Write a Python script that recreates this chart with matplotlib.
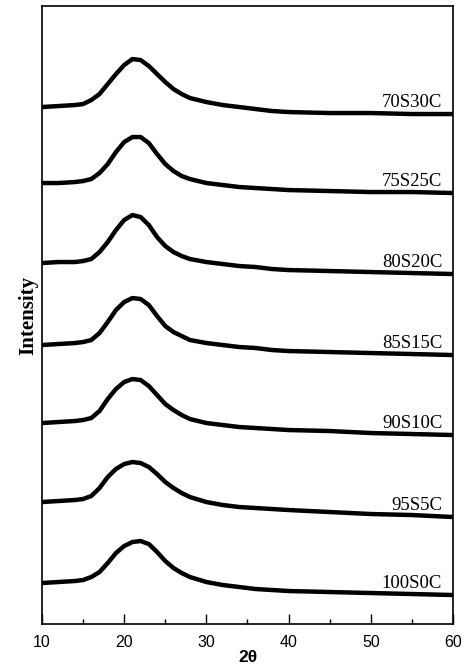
import matplotlib
matplotlib.use("Agg")
import matplotlib.pyplot as plt
import numpy as np

tth = [10, 12, 14, 15, 16, 17, 18, 19, 20, 21, 22, 23, 24, 25, 26, 27, 28,
       30, 32, 34, 36, 38, 40, 45, 50, 55, 60]

# intensity above each curve's own left baseline (arb. units)
i_70s30c = [0, 1, 2, 3, 7, 13, 23, 33, 42, 48, 47, 41, 33, 25, 18, 13, 9, 5, 2, 0, -2, -4, -5, -6, -6, -7, -7]
i_75s25c = [0, 0, 1, 2, 4, 10, 19, 31, 41, 46, 46, 40, 29, 19, 12, 7, 4, 0, -2, -4, -5, -6, -7, -8, -9, -9, -10]
i_80s20c = [0, 1, 1, 2, 4, 11, 21, 33, 43, 48, 46, 38, 26, 17, 11, 7, 4, 1, -1, -3, -4, -6, -7, -8, -9, -10, -11]
i_85s15c = [0, 1, 2, 3, 5, 12, 23, 35, 43, 47, 46, 40, 29, 19, 13, 9, 5, 2, 0, -2, -3, -5, -6, -7, -8, -9, -10]
i_90s10c = [0, 1, 2, 3, 5, 12, 24, 34, 41, 44, 43, 37, 28, 19, 13, 8, 4, 0, -2, -4, -5, -6, -7, -8, -10, -11, -12]
i_95s5c = [0, 1, 2, 3, 6, 14, 25, 33, 38, 40, 39, 35, 28, 20, 14, 9, 5, 0, -3, -5, -6, -7, -8, -10, -12, -13, -15]
i_100s0c = [0, 1, 2, 3, 6, 11, 20, 30, 37, 41, 42, 39, 31, 22, 15, 10, 6, 1, -2, -4, -6, -7, -8, -9, -10, -11, -12]

names = ["70S30C", "75S25C", "80S20C", "85S15C", "90S10C", "95S5C", "100S0C"]
series = [i_70s30c, i_75s25c, i_80s20c, i_85s15c, i_90s10c, i_95s5c, i_100s0c]
offsets = [517, 441, 361, 279, 201, 122, 41]

fig = plt.figure(figsize=(4.67, 6.72), dpi=100)
ax = fig.add_axes([0.0899, 0.0714, 0.880, 0.9196])

for name, y, off in zip(names, series, offsets):
    y = np.array(y) + off
    ax.plot(tth, y, color="black", lw=3.2, solid_joinstyle="round")
    ax.text(58.7, y[-1] + 7, name, ha="right", va="baseline",
            family="Liberation Serif", fontsize=13.5)

ax.set_xlim(10, 60)
ax.set_ylim(0, 618)
ax.set_xticks(range(10, 61, 10))
ax.set_xticks(range(15, 60, 10), minor=True)
ax.set_yticks([])
ax.tick_params(axis="x", which="major", direction="in", length=7.2, width=1,
               pad=8, labelsize=11.5)
ax.tick_params(axis="x", which="minor", direction="in", length=3.6, width=1)
for lab in ax.get_xticklabels():
    lab.set_family("Liberation Sans")
for s in ax.spines.values():
    s.set_linewidth(1.2)

ax.set_xlabel("2θ", family="Liberation Sans", fontweight="bold", fontsize=12.5,
              labelpad=0)
ax.set_ylabel("Intensity", family="Liberation Serif", fontweight="bold",
              fontsize=15, labelpad=3)

fig.savefig("out.png", dpi=100)
